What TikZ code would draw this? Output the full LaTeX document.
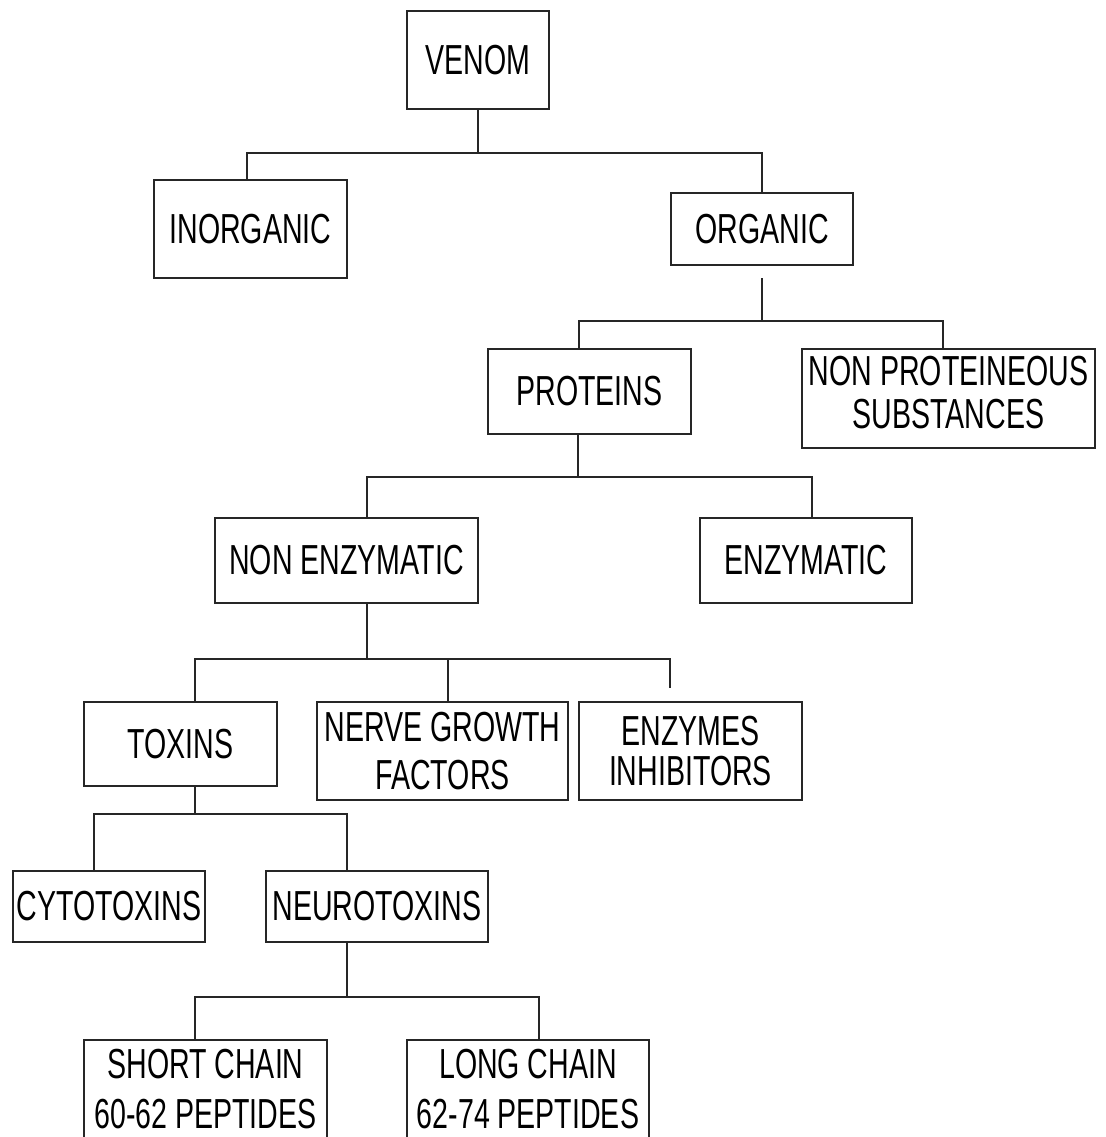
\documentclass[tikz,border=0pt]{standalone}
\usepackage{fontspec}
\setmainfont{Liberation Sans}[FakeStretch=0.68]
\tikzset{
  box/.style={draw, align=center, inner sep=0pt, font=\fontsize{42}{46}\selectfont},
}
\begin{document}
\begin{tikzpicture}[x=1pt, y=-1pt, line width=1.4pt, draw=black!85]
  \useasboundingbox (0,0) rectangle (1105,1137);
  \node[box, minimum width=142pt, minimum height=98pt] (venom) at (478,60) {VENOM};
  \node[box, minimum width=193pt, minimum height=98pt] (inorg) at (250.5,229) {INORGANIC};
  \node[box, minimum width=182pt, minimum height=72pt] (org) at (762,229) {ORGANIC};
  \node[box, minimum width=203pt, minimum height=85pt] (prot) at (589.5,391.5) {PROTEINS};
  \node[box, minimum width=293pt, minimum height=99pt, text depth=12pt] (nonprot) at (948.5,398.5) {NON PROTEINEOUS\\[-3pt]SUBSTANCES};
  \node[box, minimum width=263pt, minimum height=85pt] (nonenz) at (346.5,560.5) {NON ENZYMATIC};
  \node[box, minimum width=212pt, minimum height=85pt] (enz) at (806,560.5) {ENZYMATIC};
  \node[box, minimum width=193pt, minimum height=84pt] (tox) at (180.5,744) {TOXINS};
  \node[box, minimum width=251pt, minimum height=98pt] (ngf) at (442.5,751) {NERVE GROWTH\\[2pt]FACTORS};
  \node[box, minimum width=223pt, minimum height=98pt] (ei) at (690.5,751) {ENZYMES\\[-6pt]INHIBITORS};
  \node[box, minimum width=192pt, minimum height=71pt] (cyto) at (109,906.5) {CYTOTOXINS};
  \node[box, minimum width=222pt, minimum height=71pt] (neuro) at (377,906.5) {NEUROTOXINS};
  \node[box, minimum width=243pt, minimum height=98pt] (short) at (205.5,1089) {SHORT CHAIN\\[4pt]60-62 PEPTIDES};
  \node[box, minimum width=242pt, minimum height=98pt] (long) at (528,1089) {LONG CHAIN\\[4pt]62-74 PEPTIDES};

  \coordinate (j1l) at (247,153);
  \coordinate (j1r) at (762,153);
  \draw (venom.south) -- (venom.south |- j1l);
  \draw (j1l |- inorg.north) -- (j1l) -- (j1r) -- (j1r |- org.north);

  \coordinate (o2) at (762,278);
  \coordinate (j2l) at (579,321);
  \coordinate (j2r) at (943,321);
  \draw (o2) -- (o2 |- j2l);
  \draw (j2l |- prot.north) -- (j2l) -- (j2r) -- (j2r |- nonprot.north);

  \coordinate (p3) at (578,477);
  \coordinate (j3l) at (367,477);
  \coordinate (j3r) at (812,477);
  \draw (p3 |- prot.south) -- (p3);
  \draw (j3l |- nonenz.north) -- (j3l) -- (j3r) -- (j3r |- enz.north);

  \coordinate (j4l) at (195,659);
  \coordinate (j4m) at (448,659);
  \coordinate (j4r) at (670,659);
  \coordinate (e4) at (670,688);
  \draw (j3l |- nonenz.south) -- (j3l |- j4l);
  \draw (j4l |- tox.north) -- (j4l) -- (j4r) -- (e4);
  \draw (j4m) -- (j4m |- ngf.north);

  \coordinate (j5l) at (94,814);
  \coordinate (j5r) at (347,814);
  \draw (j4l |- tox.south) -- (j4l |- j5l);
  \draw (j5l |- cyto.north) -- (j5l) -- (j5r) -- (j5r |- neuro.north);

  \coordinate (j6l) at (195,997);
  \coordinate (j6r) at (539,997);
  \draw (j5r |- neuro.south) -- (j5r |- j6l);
  \draw (j6l |- short.north) -- (j6l) -- (j6r) -- (j6r |- long.north);
\end{tikzpicture}
\end{document}
